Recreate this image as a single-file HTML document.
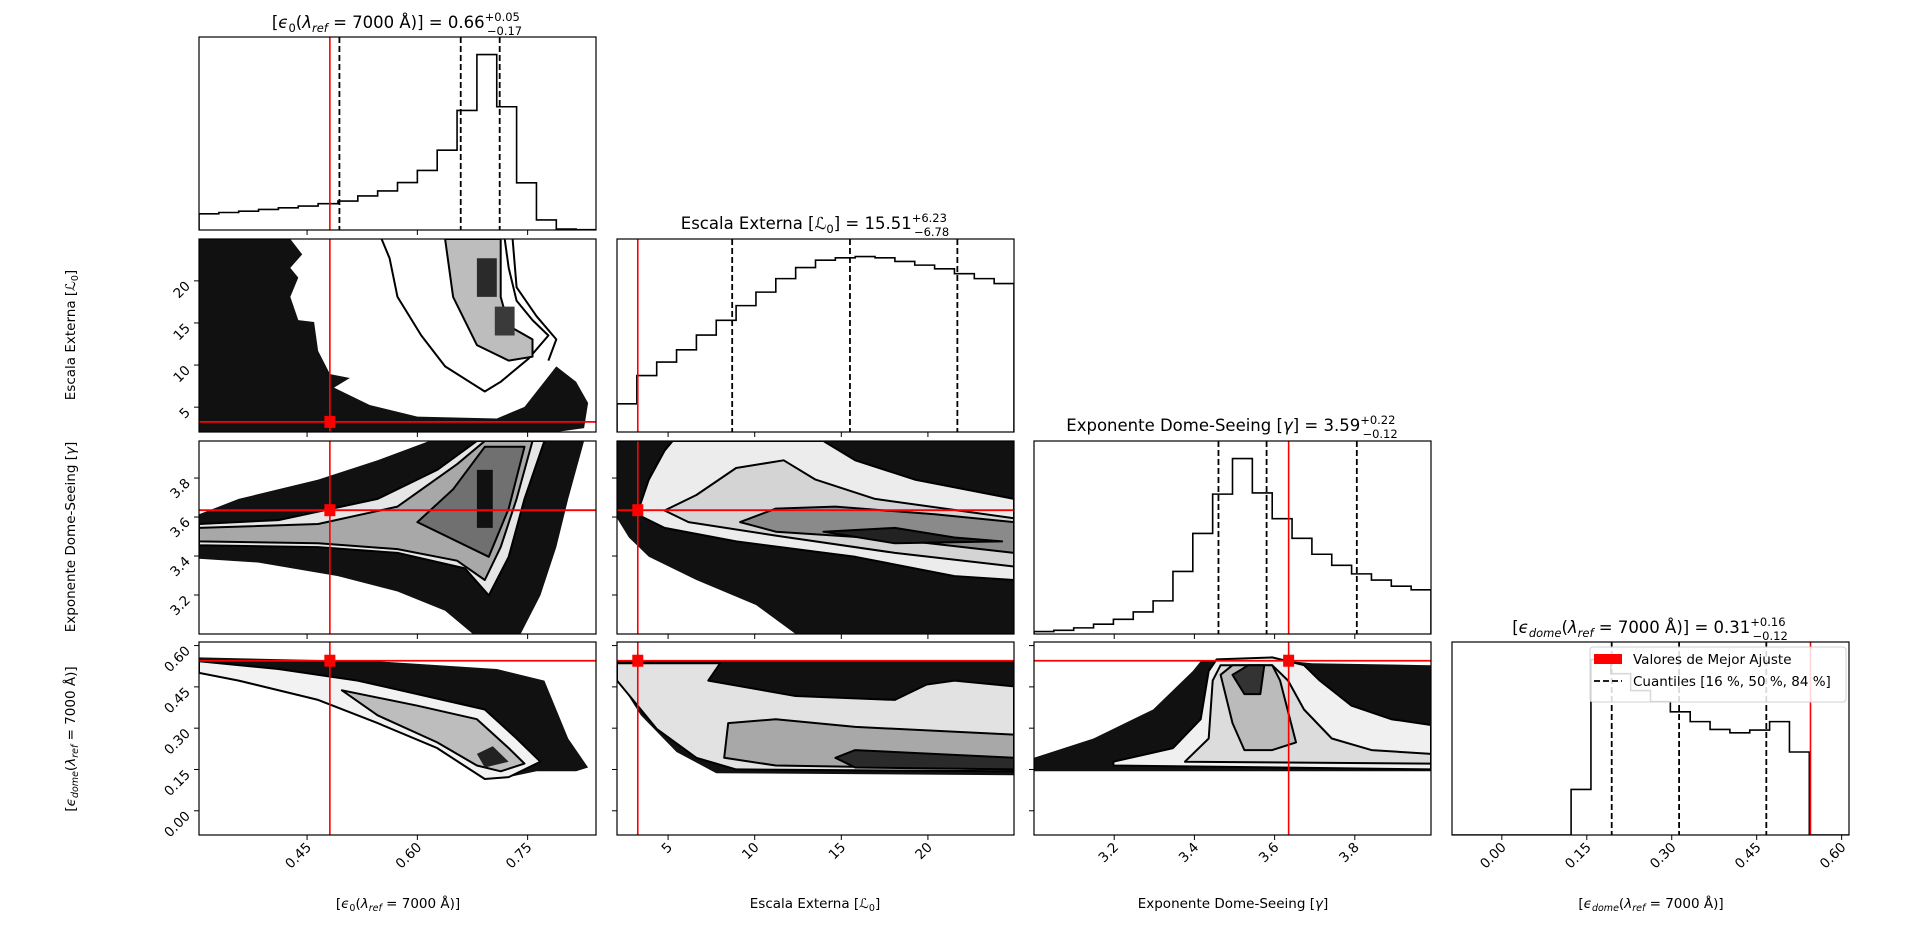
<!DOCTYPE html>
<html><head><meta charset="utf-8"><style>
html,body{margin:0;padding:0;background:#fff;}
svg{display:block;font-family:"DejaVu Sans","Liberation Sans",sans-serif;}
</style></head>
<body>
<svg id="fig" width="1920" height="927" viewBox="0 0 1920 927" xmlns="http://www.w3.org/2000/svg">
<rect width="1920" height="927" fill="#fff"/>
</svg>
<script>
// ---- data ----
const paramNames = ["eps0", "L0", "gamma", "epsdome"];
const axisRanges = [[0.303, 0.843], [2.05, 24.97], [3.0, 3.99], [-0.088, 0.613]];
const truthValues = [0.481, 3.25, 3.635, 0.545];
const quantiles0 = [0.494, 0.659, 0.712];
const quantiles1 = [8.7, 15.5, 21.7];
const quantiles2 = [3.46, 3.58, 3.805];
const quantiles3 = [0.194, 0.313, 0.467];
const hist0 = [48,52,56,61,66,71,78,86,101,116,141,177,237,355,521,366,140,30,3,1];
const hist1 = [23,46,57,67,79,91,103,114,125,134,140,142,143,142,139,136,133,129,125,121];
const hist2 = [2,3,5,8,12,18,27,51,82,114,143,115,94,78,65,56,49,44,39,36];
const hist3 = [0,0,0,0,0,0,135,520,478,428,395,365,336,313,303,311,336,246,0,0];
const ticks0 = [0.45, 0.60, 0.75];
const ticks1 = [5, 10, 15, 20];
const ticks2 = [3.2, 3.4, 3.6, 3.8];
const ticks3 = [0.00, 0.15, 0.30, 0.45, 0.60];
const tickLabels0 = ["0.45","0.60","0.75"];
const tickLabels1 = ["5","10","15","20"];
const tickLabels2 = ["3.2","3.4","3.6","3.8"];
const tickLabels3 = ["0.00","0.15","0.30","0.45","0.60"];
// density contour regions (axis-fraction coordinates)
const dens10 = [
 {f:"#111",s:0,p:[[0,0],[0.23,0],[0.26,0.08],[0.23,0.15],[0.25,0.2],[0.23,0.3],[0.25,0.42],[0.29,0.43],[0.3,0.58],[0.33,0.7],[0.38,0.72],[0.34,0.77],[0.43,0.86],[0.55,0.92],[0.75,0.93],[0.82,0.87],[0.9,0.66],[0.95,0.74],[0.98,0.85],[0.97,0.98],[0.9,1],[0,1]]},
 {f:"none",s:1,p:[[0.46,0],[0.48,0.1],[0.5,0.3],[0.56,0.5],[0.62,0.66],[0.72,0.79],[0.76,0.74],[0.83,0.62],[0.88,0.5],[0.84,0.42],[0.8,0.32],[0.78,0.15],[0.77,0]],open:1},
 {f:"none",s:1,p:[[0.79,0],[0.8,0.25],[0.85,0.4],[0.9,0.52],[0.88,0.63]],open:1},
 {f:"#bdbdbd",s:1,p:[[0.62,0],[0.64,0.3],[0.7,0.55],[0.78,0.63],[0.84,0.61],[0.84,0.52],[0.78,0.45],[0.76,0.3],[0.76,0]]},
 {f:"#2a2a2a",s:0,p:[[0.7,0.1],[0.75,0.1],[0.75,0.3],[0.7,0.3]]},
 {f:"#3a3a3a",s:0,p:[[0.745,0.35],[0.795,0.35],[0.795,0.5],[0.745,0.5]]}
];
const dens20 = [
 {f:"#111",s:0,p:[[0,0.38],[0.1,0.3],[0.3,0.2],[0.45,0.1],[0.58,0],[0.97,0],[0.93,0.3],[0.9,0.55],[0.86,0.8],[0.81,1],[0.69,1],[0.62,0.88],[0.5,0.78],[0.35,0.7],[0.15,0.63],[0,0.61]]},
 {f:"#e6e6e6",s:1,p:[[0,0.43],[0.2,0.41],[0.45,0.3],[0.6,0.15],[0.7,0],[0.87,0],[0.82,0.3],[0.78,0.6],[0.73,0.8],[0.67,0.66],[0.5,0.58],[0.3,0.55],[0,0.54]]},
 {f:"#a8a8a8",s:1,p:[[0,0.45],[0.3,0.43],[0.5,0.34],[0.65,0.12],[0.72,0],[0.84,0],[0.8,0.3],[0.76,0.55],[0.72,0.72],[0.65,0.62],[0.5,0.56],[0.3,0.53],[0,0.52]]},
 {f:"#707070",s:1,p:[[0.55,0.42],[0.64,0.25],[0.72,0.03],[0.82,0.03],[0.78,0.35],[0.73,0.6]]},
 {f:"#111",s:0,p:[[0.7,0.15],[0.74,0.15],[0.74,0.45],[0.7,0.45]]}
];
const dens21 = [
 {f:"#111",s:0,p:[[0,0],[1,0],[1,1],[0.45,1],[0.35,0.85],[0.2,0.72],[0.08,0.6],[0.03,0.5],[0,0.4]]},
 {f:"#ececec",s:1,p:[[0.14,0],[0.52,0],[0.6,0.1],[0.75,0.2],[1,0.3],[1,0.72],[0.85,0.7],[0.6,0.6],[0.3,0.52],[0.12,0.45],[0.05,0.38],[0.08,0.2],[0.12,0.05]]},
 {f:"#d4d4d4",s:1,p:[[0.12,0.36],[0.2,0.28],[0.3,0.14],[0.42,0.1],[0.5,0.2],[0.65,0.3],[1,0.4],[1,0.65],[0.7,0.58],[0.4,0.49],[0.18,0.42]]},
 {f:"#8a8a8a",s:1,p:[[0.31,0.42],[0.4,0.35],[0.55,0.34],[0.8,0.38],[1,0.42],[1,0.58],[0.7,0.51],[0.4,0.47]]},
 {f:"#222",s:1,p:[[0.52,0.47],[0.7,0.45],[0.85,0.5],[0.97,0.52],[0.7,0.53]]}
];
const dens30 = [
 {f:"#111",s:0,p:[[0,0.08],[0.45,0.1],[0.75,0.14],[0.87,0.2],[0.93,0.5],[0.98,0.65],[0.95,0.67],[0.85,0.67],[0.78,0.7],[0.72,0.68],[0.6,0.52],[0.4,0.35],[0.2,0.22],[0,0.15]]},
 {f:"#f2f2f2",s:1,p:[[0,0.1],[0.2,0.14],[0.4,0.2],[0.55,0.27],[0.72,0.35],[0.8,0.5],[0.86,0.62],[0.78,0.7],[0.72,0.71],[0.66,0.63],[0.6,0.55],[0.45,0.42],[0.3,0.3],[0.1,0.2],[0,0.16]]},
 {f:"#bdbdbd",s:1,p:[[0.36,0.25],[0.55,0.33],[0.7,0.4],[0.78,0.55],[0.82,0.63],[0.76,0.67],[0.7,0.64],[0.6,0.52],[0.45,0.38]]},
 {f:"#222",s:0,p:[[0.7,0.58],[0.74,0.54],[0.78,0.62],[0.72,0.65]]}
];
const dens31 = [
 {f:"#111",s:0,p:[[0,0.1],[1,0.1],[1,0.69],[0.25,0.68],[0.15,0.57],[0.06,0.38],[0.02,0.25],[0,0.2]]},
 {f:"#e2e2e2",s:1,p:[[0,0.11],[0.26,0.11],[0.23,0.2],[0.45,0.28],[0.7,0.3],[0.78,0.22],[0.85,0.2],[1,0.23],[1,0.67],[0.3,0.66],[0.2,0.6],[0.1,0.45],[0.04,0.3],[0,0.2]]},
 {f:"#a8a8a8",s:1,p:[[0.28,0.42],[0.4,0.4],[0.6,0.44],[1,0.48],[1,0.66],[0.4,0.64],[0.27,0.6]]},
 {f:"#2a2a2a",s:1,p:[[0.55,0.6],[0.6,0.56],[1,0.6],[1,0.66],[0.6,0.65]]}
];
const dens32 = [
 {f:"#111",s:0,p:[[0,0.6],[0.15,0.5],[0.3,0.35],[0.4,0.15],[0.42,0.1],[0.6,0.09],[0.7,0.11],[1,0.12],[1,0.67],[0,0.67]]},
 {f:"#f0f0f0",s:1,p:[[0.2,0.62],[0.35,0.55],[0.42,0.4],[0.44,0.15],[0.46,0.09],[0.6,0.08],[0.68,0.12],[0.72,0.2],[0.8,0.33],[0.9,0.4],[1,0.43],[1,0.66],[0.2,0.64]]},
 {f:"#dcdcdc",s:1,p:[[0.38,0.62],[0.44,0.5],[0.45,0.2],[0.47,0.12],[0.6,0.12],[0.64,0.2],[0.68,0.35],[0.75,0.5],[0.85,0.56],[1,0.58],[1,0.63]]},
 {f:"#bbbbbb",s:1,p:[[0.47,0.17],[0.5,0.12],[0.6,0.12],[0.62,0.2],[0.66,0.52],[0.6,0.56],[0.53,0.56],[0.5,0.42]]},
 {f:"#333",s:1,p:[[0.5,0.17],[0.54,0.12],[0.58,0.12],[0.57,0.27],[0.53,0.27]]}
];

// ---- layout ----
const NS = "http://www.w3.org/2000/svg";
const svg = document.getElementById("fig");
const colX = [199, 617, 1034, 1452];
const rowY = [37, 239, 441, 642];
const PW = 397, PH = 193;
const hists = [hist0, hist1, hist2, hist3];
const quants = [quantiles0, quantiles1, quantiles2, quantiles3];
const ticks = [ticks0, ticks1, ticks2, ticks3];
const tickLabels = [tickLabels0, tickLabels1, tickLabels2, tickLabels3];
const dens = {"1-0": dens10, "2-0": dens20, "2-1": dens21, "3-0": dens30, "3-1": dens31, "3-2": dens32};

function sx(c, v) { const r = axisRanges[c]; return colX[c] + (v - r[0]) / (r[1] - r[0]) * PW; }
function sy(r, v) { const a = axisRanges[r]; return rowY[r] + PH - (v - a[0]) / (a[1] - a[0]) * PH; }
function el(tag, attrs, parent) {
  const e = document.createElementNS(NS, tag);
  for (const k in attrs) e.setAttribute(k, attrs[k]);
  (parent || svg).appendChild(e);
  return e;
}

// clip paths
const defs = el("defs", {});
for (let r = 0; r < 4; r++) for (let c = 0; c <= r; c++) {
  const cp = el("clipPath", {id: "clip" + r + c}, defs);
  el("rect", {x: colX[c], y: rowY[r], width: PW, height: PH}, cp);
}

// ---- histograms on diagonal ----
for (let i = 0; i < 4; i++) {
  const g = el("g", {"clip-path": "url(#clip" + i + i + ")"});
  
  
  const h = hists[i];
  const maxH = Math.max.apply(null, h) * 1.1;
  const n = h.length;
  const r = axisRanges[i];
  const bw = (r[1] - r[0]) / n;
  const base = rowY[i] + PH;
  let d = "M" + sx(i, r[0]) + "," + base;
  for (let k = 0; k < n; k++) {
    const y = base - h[k] / maxH * PH;
    d += " L" + sx(i, r[0] + k * bw) + "," + y + " L" + sx(i, r[0] + (k + 1) * bw) + "," + y;
  }
  d += " L" + sx(i, r[1]) + "," + base;
  const p = el("path", {d: d, fill: "none", stroke: "#000", "stroke-width": 1.6}, g);
  
  
  quants[i].forEach(function (q, qi) {
    const l = el("line", {x1: sx(i, q), x2: sx(i, q), y1: rowY[i], y2: base, stroke: "#000", "stroke-width": 1.8, "stroke-dasharray": "6,3"}, g);
    
    
  });
  const t = el("line", {x1: sx(i, truthValues[i]), x2: sx(i, truthValues[i]), y1: rowY[i], y2: base, stroke: "#f00", "stroke-width": 1.6}, g);
  
  
}

// ---- 2D density panels ----
for (const key in dens) {
  const r = +key[0], c = +key[2];
  const g = el("g", {"clip-path": "url(#clip" + r + c + ")"});
  
  
  dens[key].forEach(function (layer, li) {
    const pts = layer.p.map(function (q) { return (colX[c] + q[0] * PW).toFixed(1) + "," + (rowY[r] + q[1] * PH).toFixed(1); });
    const d = "M" + pts.join(" L") + (layer.open ? "" : " Z");
    const p = el("path", {d: d, fill: layer.f, stroke: layer.s ? "#000" : "none", "stroke-width": 2, "stroke-linejoin": "round"}, g);
    
    
  });
  const vx = sx(c, truthValues[c]), hy = sy(r, truthValues[r]);
  const lv = el("line", {x1: vx, x2: vx, y1: rowY[r], y2: rowY[r] + PH, stroke: "#f00", "stroke-width": 1.6}, g);
  
  
  const lh = el("line", {x1: colX[c], x2: colX[c] + PW, y1: hy, y2: hy, stroke: "#f00", "stroke-width": 1.8}, g);
  
  
  const m = el("rect", {x: vx - 5.5, y: hy - 6, width: 11, height: 12, fill: "#f00"}, g);
  
  
}

// ---- frames and ticks ----
for (let r = 0; r < 4; r++) for (let c = 0; c <= r; c++) {
  const f = el("rect", {x: colX[c], y: rowY[r], width: PW, height: PH, fill: "none", stroke: "#000", "stroke-width": 1.2});
  
  
  const base = rowY[r] + PH;
  ticks[c].forEach(function (v, k) {
    const x = sx(c, v);
    if (x < colX[c] - 0.5 || x > colX[c] + PW + 0.5) return;
    el("line", {x1: x, x2: x, y1: base, y2: base + 5, stroke: "#000", "stroke-width": 1});
    if (r === 3) {
      const t = el("text", {x: x + 5, y: base + 13, "font-size": 13.5, "text-anchor": "end", transform: "rotate(-45 " + (x + 5) + " " + (base + 13) + ")"});
      t.textContent = tickLabels[c][k];
      
      
    }
  });
  if (c === 0 && r > 0) {
    ticks[r].forEach(function (v, k) {
      const y = sy(r, v);
      if (y < rowY[r] - 0.5 || y > rowY[r] + PH + 0.5) return;
      el("line", {x1: colX[c] - 5, x2: colX[c], y1: y, y2: y, stroke: "#000", "stroke-width": 1});
      const t = el("text", {x: colX[c] - 8, y: y + 6, "font-size": 13.5, "text-anchor": "end", transform: "rotate(-45 " + (colX[c] - 8) + " " + (y + 6) + ")"});
      t.textContent = tickLabels[r][k];
      
      
    });
  } else if (c !== r) {
    ticks[r].forEach(function (v) {
      const y = sy(r, v);
      if (y < rowY[r] - 0.5 || y > rowY[r] + PH + 0.5) return;
      el("line", {x1: colX[c] - 5, x2: colX[c], y1: y, y2: y, stroke: "#000", "stroke-width": 1});
    });
  }
}
</script>

<svg style="position:absolute;left:0;top:0" width="1920" height="927" xmlns="http://www.w3.org/2000/svg" font-family="DejaVu Sans, Liberation Sans, sans-serif">
  <!-- titles -->
  <text x="397" y="28" font-size="16.5" text-anchor="middle">[<tspan font-style="italic">ϵ</tspan><tspan font-size="11.5" dy="4">0</tspan><tspan dy="-4">(</tspan><tspan font-style="italic">λ</tspan><tspan font-size="11.5" font-style="italic" dy="4">ref</tspan><tspan dy="-4"> = 7000 Å)] = 0.66</tspan><tspan font-size="11.5" dy="-7">+0.05</tspan><tspan font-size="11.5" dx="-33" dy="14">−0.17</tspan></text>
  <text x="815" y="229" font-size="16.5" text-anchor="middle">Escala Externa [ℒ<tspan font-size="11.5" dy="4">0</tspan><tspan dy="-4">] = 15.51</tspan><tspan font-size="11.5" dy="-7">+6.23</tspan><tspan font-size="11.5" dx="-33" dy="14">−6.78</tspan></text>
  <text x="1232" y="431" font-size="16.5" text-anchor="middle">Exponente Dome-Seeing [<tspan font-style="italic">γ</tspan>] = 3.59<tspan font-size="11.5" dy="-7">+0.22</tspan><tspan font-size="11.5" dx="-33" dy="14">−0.12</tspan></text>
  <text x="1650" y="633" font-size="16.5" text-anchor="middle">[<tspan font-style="italic">ϵ</tspan><tspan font-size="11.5" font-style="italic" dy="4">dome</tspan><tspan dy="-4">(</tspan><tspan font-style="italic">λ</tspan><tspan font-size="11.5" font-style="italic" dy="4">ref</tspan><tspan dy="-4"> = 7000 Å)] = 0.31</tspan><tspan font-size="11.5" dy="-7">+0.16</tspan><tspan font-size="11.5" dx="-33" dy="14">−0.12</tspan></text>

  <!-- x axis labels -->
  <text x="398" y="908" font-size="13.5" text-anchor="middle">[<tspan font-style="italic">ϵ</tspan><tspan font-size="9.5" dy="3">0</tspan><tspan dy="-3">(</tspan><tspan font-style="italic">λ</tspan><tspan font-size="9.5" font-style="italic" dy="3">ref</tspan><tspan dy="-3"> = 7000 Å)]</tspan></text>
  <text x="815" y="908" font-size="13.5" text-anchor="middle">Escala Externa [ℒ<tspan font-size="9.5" dy="3">0</tspan><tspan dy="-3">]</tspan></text>
  <text x="1233" y="908" font-size="13.5" text-anchor="middle">Exponente Dome-Seeing [<tspan font-style="italic">γ</tspan>]</text>
  <text x="1651" y="908" font-size="13.5" text-anchor="middle">[<tspan font-style="italic">ϵ</tspan><tspan font-size="9.5" font-style="italic" dy="3">dome</tspan><tspan dy="-3">(</tspan><tspan font-style="italic">λ</tspan><tspan font-size="9.5" font-style="italic" dy="3">ref</tspan><tspan dy="-3"> = 7000 Å)]</tspan></text>

  <!-- y axis labels -->
  <text transform="translate(75,335) rotate(-90)" font-size="13.5" text-anchor="middle">Escala Externa [ℒ<tspan font-size="9.5" dy="3">0</tspan><tspan dy="-3">]</tspan></text>
  <text transform="translate(75,537) rotate(-90)" font-size="13.5" text-anchor="middle">Exponente Dome-Seeing [<tspan font-style="italic">γ</tspan>]</text>
  <text transform="translate(75,739) rotate(-90)" font-size="13.5" text-anchor="middle">[<tspan font-style="italic">ϵ</tspan><tspan font-size="9.5" font-style="italic" dy="3">dome</tspan><tspan dy="-3">(</tspan><tspan font-style="italic">λ</tspan><tspan font-size="9.5" font-style="italic" dy="3">ref</tspan><tspan dy="-3"> = 7000 Å)]</tspan></text>

  <!-- legend -->
  <g>
    <rect x="1590" y="647" width="256" height="55" rx="3" fill="#fff" fill-opacity="0.85" stroke="#d0d0d0" stroke-width="1"/>
    <rect x="1594" y="654" width="28" height="10" fill="#f00"/>
    <text x="1633" y="664" font-size="13.5">Valores de Mejor Ajuste</text>
    <line x1="1594" x2="1622" y1="681" y2="681" stroke="#000" stroke-width="1.8" stroke-dasharray="6,3"/>
    <text x="1633" y="686" font-size="13.5">Cuantiles [16 %, 50 %, 84 %]</text>
  </g>
</svg>
</body></html>
